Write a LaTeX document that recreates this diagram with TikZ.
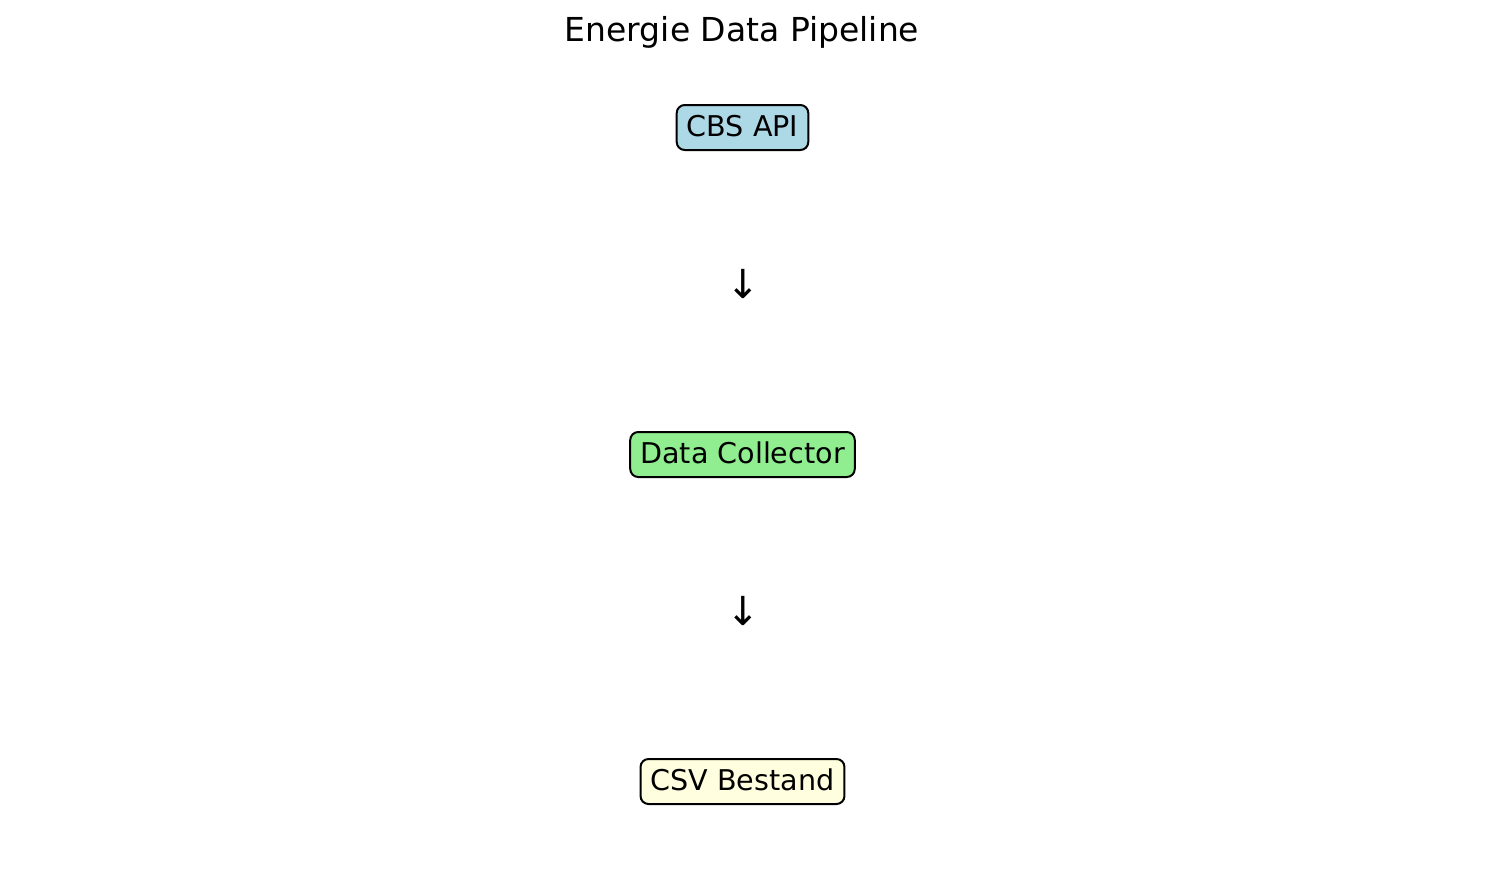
\documentclass[tikz,border=0pt]{standalone}
\usepackage{fontspec}
\setmainfont{DejaVu Sans}
\definecolor{cbsblue}{RGB}{173,216,230}
\definecolor{collgreen}{RGB}{144,238,144}
\definecolor{csvyellow}{RGB}{255,255,224}
\begin{document}
\begin{tikzpicture}[x=1pt,y=1pt,
  stagebox/.style={draw=black,line width=2pt,rounded corners=8pt,inner xsep=10pt,inner ysep=8pt,
    text height=23pt,text depth=6pt,anchor=base,font=\fontsize{28.6}{34}\selectfont},
  flowarrow/.style={font=\fontsize{40}{48}\selectfont,inner sep=0pt,anchor=center},
  titletext/.style={font=\fontsize{33}{40}\selectfont,anchor=base,inner sep=0pt}]
\useasboundingbox (0,0) rectangle (1485,-887);
\fill[white] (0,0) rectangle (1485,-887);
\node[titletext] (title) at (742,-41) {Energie Data Pipeline};
\node[stagebox,fill=cbsblue] (cbs) at (742.5,-136) {CBS API};
\node[flowarrow] (a1) at (743,-284) {↓};
\node[stagebox,fill=collgreen] (coll) at (742.5,-463) {Data Collector};
\node[flowarrow] (a2) at (743,-611) {↓};
\node[stagebox,fill=csvyellow] (csv) at (742.5,-790) {CSV Bestand};
\end{tikzpicture}
\end{document}
